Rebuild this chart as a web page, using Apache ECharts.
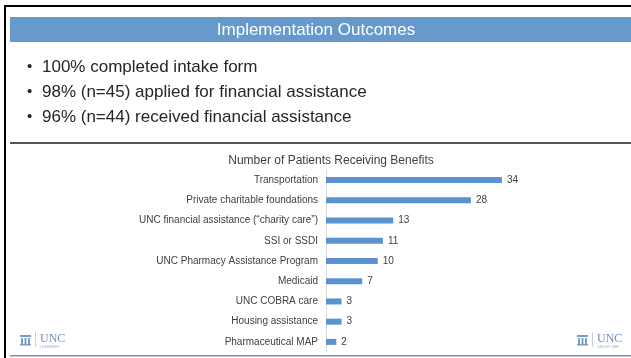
<!DOCTYPE html>
<html>
<head>
<meta charset="utf-8">
<title>Implementation Outcomes</title>
<script src="https://cdn.jsdelivr.net/npm/echarts@6/dist/echarts.min.js"></script>
<style>
html, body { margin: 0; padding: 0; background: #fff; }
#main { width: 631px; height: 358px; }
</style>
</head>
<body>
<div id="main"></div>
<script>
// data, top to bottom as in the slide
var categories = [
    'Transportation',
    'Private charitable foundations',
    'UNC financial assistance (\u201Ccharity care\u201D)',
    'SSI or SSDI',
    'UNC Pharmacy Assistance Program',
    'Medicaid',
    'UNC COBRA care',
    'Housing assistance',
    'Pharmaceutical MAP'
];
var patients = [34, 28, 13, 11, 10, 7, 3, 3, 2];
var bullets = [
    '100% completed intake form',
    '98% (n=45) applied for financial assistance',
    '96% (n=44) received financial assistance'
];
var headerTitle = 'Implementation Outcomes';
var chartTitle = 'Number of Patients Receiving Benefits';

var font = '"Liberation Sans", Arial, sans-serif';
var myChart = echarts.init(document.getElementById('main'), null, {renderer: 'canvas'});

// slide decoration: frame, header bar, bullets, separator, logos
var deco = [
    {type: 'rect', shape: {x: 4, y: 5, width: 2, height: 353}, style: {fill: '#000'}},
    {type: 'rect', shape: {x: 4, y: 5, width: 627, height: 2}, style: {fill: '#000'}},
    {type: 'rect', shape: {x: 10, y: 17, width: 621, height: 25}, style: {fill: '#6699cc'}},
    {type: 'text', x: 316, y: 30, style: {text: headerTitle, fill: '#fff', font: '17px ' + font, align: 'center', verticalAlign: 'middle'}},
    {type: 'rect', shape: {x: 10, y: 142, width: 621, height: 2}, style: {fill: '#555'}},
    {type: 'rect', shape: {x: 10, y: 355, width: 621, height: 1.5}, style: {fill: '#6d95c2'}}
];
bullets.forEach(function (b, i) {
    deco.push({type: 'text', x: 27, y: 67 + i * 25, style: {text: '\u2022', fill: '#262626', font: '15px ' + font, verticalAlign: 'middle'}});
    deco.push({type: 'text', x: 42, y: 67 + i * 25, style: {text: b, fill: '#262626', font: '17px ' + font, verticalAlign: 'middle'}});
});

// UNC logos (little building + wordmark)
function logo(x, sub) {
    return [
        {type: 'rect', shape: {x: x, y: 335, width: 11, height: 2}, style: {fill: '#7d9cc4'}},
        {type: 'rect', shape: {x: x + 1, y: 338, width: 2, height: 6}, style: {fill: '#7d9cc4'}},
        {type: 'rect', shape: {x: x + 4.5, y: 338, width: 2, height: 6}, style: {fill: '#7d9cc4'}},
        {type: 'rect', shape: {x: x + 8, y: 338, width: 2, height: 6}, style: {fill: '#7d9cc4'}},
        {type: 'rect', shape: {x: x, y: 344, width: 11, height: 1.5}, style: {fill: '#7d9cc4'}},
        {type: 'rect', shape: {x: x + 15, y: 332, width: 1, height: 15}, style: {fill: '#c8d3e0'}},
        {type: 'text', x: x + 20, y: 339, style: {text: 'UNC', fill: '#6f8fbc', font: '12px "Liberation Serif", serif', verticalAlign: 'middle'}},
        {type: 'text', x: x + 20, y: 347, style: {text: sub, fill: '#9fb3cf', font: '3px ' + font, verticalAlign: 'middle'}}
    ];
}
deco = deco.concat(logo(20, 'LINEBERGER'), logo(577, 'CANCER CARE'));

var option = {
    animation: false,
    title: {
        text: chartTitle,
        left: 326,
        textAlign: 'center',
        top: 150,
        textStyle: {fontFamily: font, fontSize: 12, fontWeight: 'normal', color: '#404040'}
    },
    grid: {left: 326, top: 170, width: 207, height: 182, containLabel: false},
    xAxis: {
        type: 'value', min: 0, max: 40, show: false
    },
    yAxis: {
        type: 'category',
        inverse: true,
        data: categories,
        axisLine: {show: true, lineStyle: {color: '#d9d9d9', width: 1}},
        axisTick: {show: false},
        axisLabel: {fontFamily: font, fontSize: 10, color: '#404040', margin: 8}
    },
    series: [{
        type: 'bar',
        data: patients,
        barWidth: 6,
        itemStyle: {color: '#5b93cf'},
        label: {show: true, position: 'right', distance: 5, fontFamily: font, fontSize: 10, color: '#404040'}
    }],
    graphic: deco
};
myChart.setOption(option);
</script>
</body>
</html>
